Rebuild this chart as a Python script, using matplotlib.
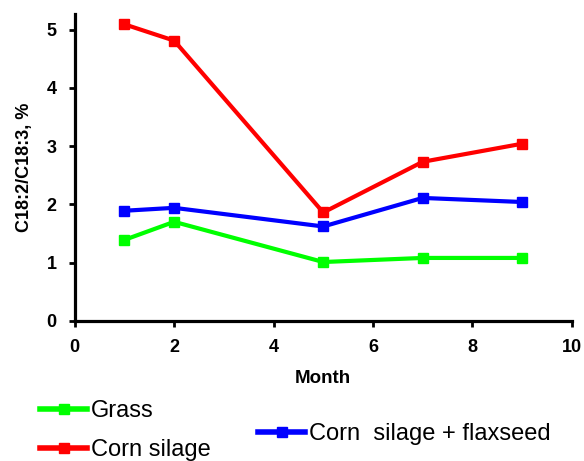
import matplotlib
matplotlib.use('Agg')
import matplotlib.pyplot as plt

plt.rcParams['font.family'] = ['Liberation Sans', 'DejaVu Sans']

# data
month = [1, 2, 5, 7, 9]
grass = [1.39, 1.70, 1.01, 1.08, 1.08]
corn = [5.09, 4.81, 1.86, 2.73, 3.04]
corn_flax = [1.89, 1.94, 1.62, 2.11, 2.04]

fig = plt.figure(figsize=(5.84, 4.61), dpi=100)
ax = fig.add_axes([0.128, 0.304, 0.851, 0.666])

kw = dict(lw=3, marker='s', ms=7)
l1, = ax.plot(month, grass, color='#00ff00', **kw)
l2, = ax.plot(month, corn, color='#ff0000', **kw)
l3, = ax.plot(month, corn_flax, color='#0000ff', **kw)

ax.set_xlim(0, 10)
ax.set_ylim(0, 5.27)
ax.set_xticks([0, 2, 4, 6, 8, 10])
ax.set_yticks([0, 1, 2, 3, 4, 5])
for s in ['top', 'right']:
    ax.spines[s].set_visible(False)
for s in ['left', 'bottom']:
    ax.spines[s].set_linewidth(2.3)
ax.tick_params(width=2, length=4, labelsize=13, pad=9)
for t in ax.get_xticklabels() + ax.get_yticklabels():
    t.set_fontweight('bold')
ax.set_xlabel('Month', fontsize=13.5, fontweight='bold', labelpad=10)
ax.set_ylabel('C18:2/C18:3, %', fontsize=13, fontweight='bold', labelpad=10)

leg1 = fig.legend([l1, l2], ['Grass', 'Corn silage'], loc='upper left',
                  bbox_to_anchor=(0.0685, 0.132), frameon=False, fontsize=17,
                  handlelength=2.0, handletextpad=0.15, labelspacing=0.72,
                  borderpad=0, borderaxespad=0)
leg2 = fig.legend([l3], ['Corn  silage + flaxseed'], loc='upper left',
                  bbox_to_anchor=(0.442, 0.082), frameon=False, fontsize=17,
                  handlelength=2.0, handletextpad=0.15, borderpad=0, borderaxespad=0)
for leg in (leg1, leg2):
    for h in leg.legend_handles:
        h.set_linewidth(4)

fig.savefig('out.png', dpi=100)
